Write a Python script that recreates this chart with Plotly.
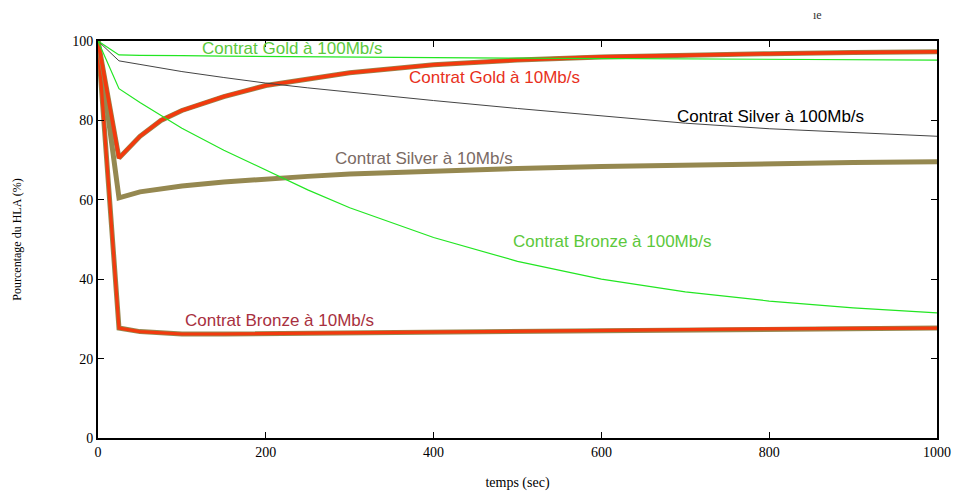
import plotly.graph_objects as go

# time axis (sec)
t = [0, 25, 50, 75, 100, 150, 200, 250, 300, 400, 500, 600, 700, 800, 900, 1000]

gold_100 = [100, 96.5, 96.4, 96.4, 96.3, 96.2, 96.1, 96.0, 95.9, 95.8, 95.7, 95.6, 95.5, 95.4, 95.3, 95.2]
silver_100 = [100, 95.0, 94.1, 93.2, 92.3, 90.8, 89.4, 88.2, 87.1, 85.0, 83.0, 81.1, 79.3, 77.9, 76.9, 76.0]
bronze_100 = [100, 88.0, 84.5, 81.2, 78.0, 72.5, 67.5, 62.5, 58.0, 50.5, 44.5, 40.0, 36.8, 34.5, 32.8, 31.5]
gold_10 = [100, 70.5, 76.0, 80.0, 82.5, 86.0, 88.8, 90.5, 92.0, 94.0, 95.2, 96.0, 96.5, 96.8, 97.1, 97.3]
silver_10 = [100, 60.5, 62.0, 62.9, 63.5, 64.5, 65.3, 65.9, 66.5, 67.3, 67.9, 68.4, 68.8, 69.1, 69.4, 69.6]
bronze_10 = [100, 27.7, 26.8, 26.4, 26.2, 26.2, 26.3, 26.4, 26.5, 26.8, 27.0, 27.1, 27.3, 27.5, 27.6, 27.7]

labels = [
    ("Contrat Gold à 100Mb/s", 231, 98.0, "#5cc83c"),
    ("Contrat Gold à 10Mb/s", 473, 90.7, "#e8301c"),
    ("Contrat Silver à 100Mb/s", 802, 80.9, "#000000"),
    ("Contrat Silver à 10Mb/s", 389, 70.5, "#7a6a64"),
    ("Contrat Bronze à 100Mb/s", 613, 49.4, "#5cc83c"),
    ("Contrat Bronze à 10Mb/s", 216, 29.7, "#a83040"),
]

OLIVE = "#958850"
RED = "#f23a0e"
GREEN = "#22e622"

fig = go.Figure()
# thick 10Mb/s curves
fig.add_trace(go.Scatter(x=t, y=silver_10, mode="lines", line=dict(color=OLIVE, width=5)))
fig.add_trace(go.Scatter(x=t, y=bronze_10, mode="lines", line=dict(color=OLIVE, width=5)))
fig.add_trace(go.Scatter(x=t, y=bronze_10, mode="lines", line=dict(color=RED, width=3.2)))
fig.add_trace(go.Scatter(x=t, y=gold_10, mode="lines", line=dict(color=OLIVE, width=5)))
fig.add_trace(go.Scatter(x=t, y=gold_10, mode="lines", line=dict(color=RED, width=3.6)))
# thin 100Mb/s curves
fig.add_trace(go.Scatter(x=t, y=bronze_100, mode="lines", line=dict(color=GREEN, width=1.2)))
fig.add_trace(go.Scatter(x=t, y=silver_100, mode="lines", line=dict(color="#444444", width=1)))
fig.add_trace(go.Scatter(x=t, y=gold_100, mode="lines", line=dict(color=GREEN, width=1.2)))

for text, x, y, c in labels:
    fig.add_annotation(x=x, y=y, text=text, showarrow=False,
                       font=dict(family="Liberation Sans, Arial, sans-serif", size=17, color=c))

fig.add_annotation(xref="paper", yref="paper", x=0.865, y=1.088, text="ıe", showarrow=False,
                   font=dict(family="Liberation Serif, serif", size=12, color="#333333"))

serif = "Liberation Serif, Times New Roman, serif"
fig.update_layout(
    width=958, height=492,
    margin=dict(l=98, r=21, t=41, b=54),
    plot_bgcolor="white", paper_bgcolor="white",
    showlegend=False,
    xaxis=dict(range=[0, 1000], tickvals=[0, 200, 400, 600, 800, 1000], automargin=False,
               ticks="inside", ticklen=6, tickcolor="black", showgrid=False, zeroline=False,
               showline=True, linecolor="black", linewidth=2, mirror="ticks",
               tickfont=dict(family=serif, size=14, color="black"),
               title=dict(text="temps (sec)", font=dict(family=serif, size=14, color="black"), standoff=18)),
    yaxis=dict(range=[0, 100], tickvals=[0, 20, 40, 60, 80, 100], automargin=False,
               ticks="inside", ticklen=6, tickcolor="black", showgrid=False, zeroline=False,
               showline=True, linecolor="black", linewidth=2, mirror="ticks",
               tickfont=dict(family=serif, size=14, color="black"),
               title=dict(text="Pourcentage du HLA (%)", font=dict(family=serif, size=12, color="black"), standoff=48)),
)

fig.write_html("out.html", config={"displayModeBar": False},
               post_script="document.body.style.margin='0';document.body.style.overflow='hidden';")
